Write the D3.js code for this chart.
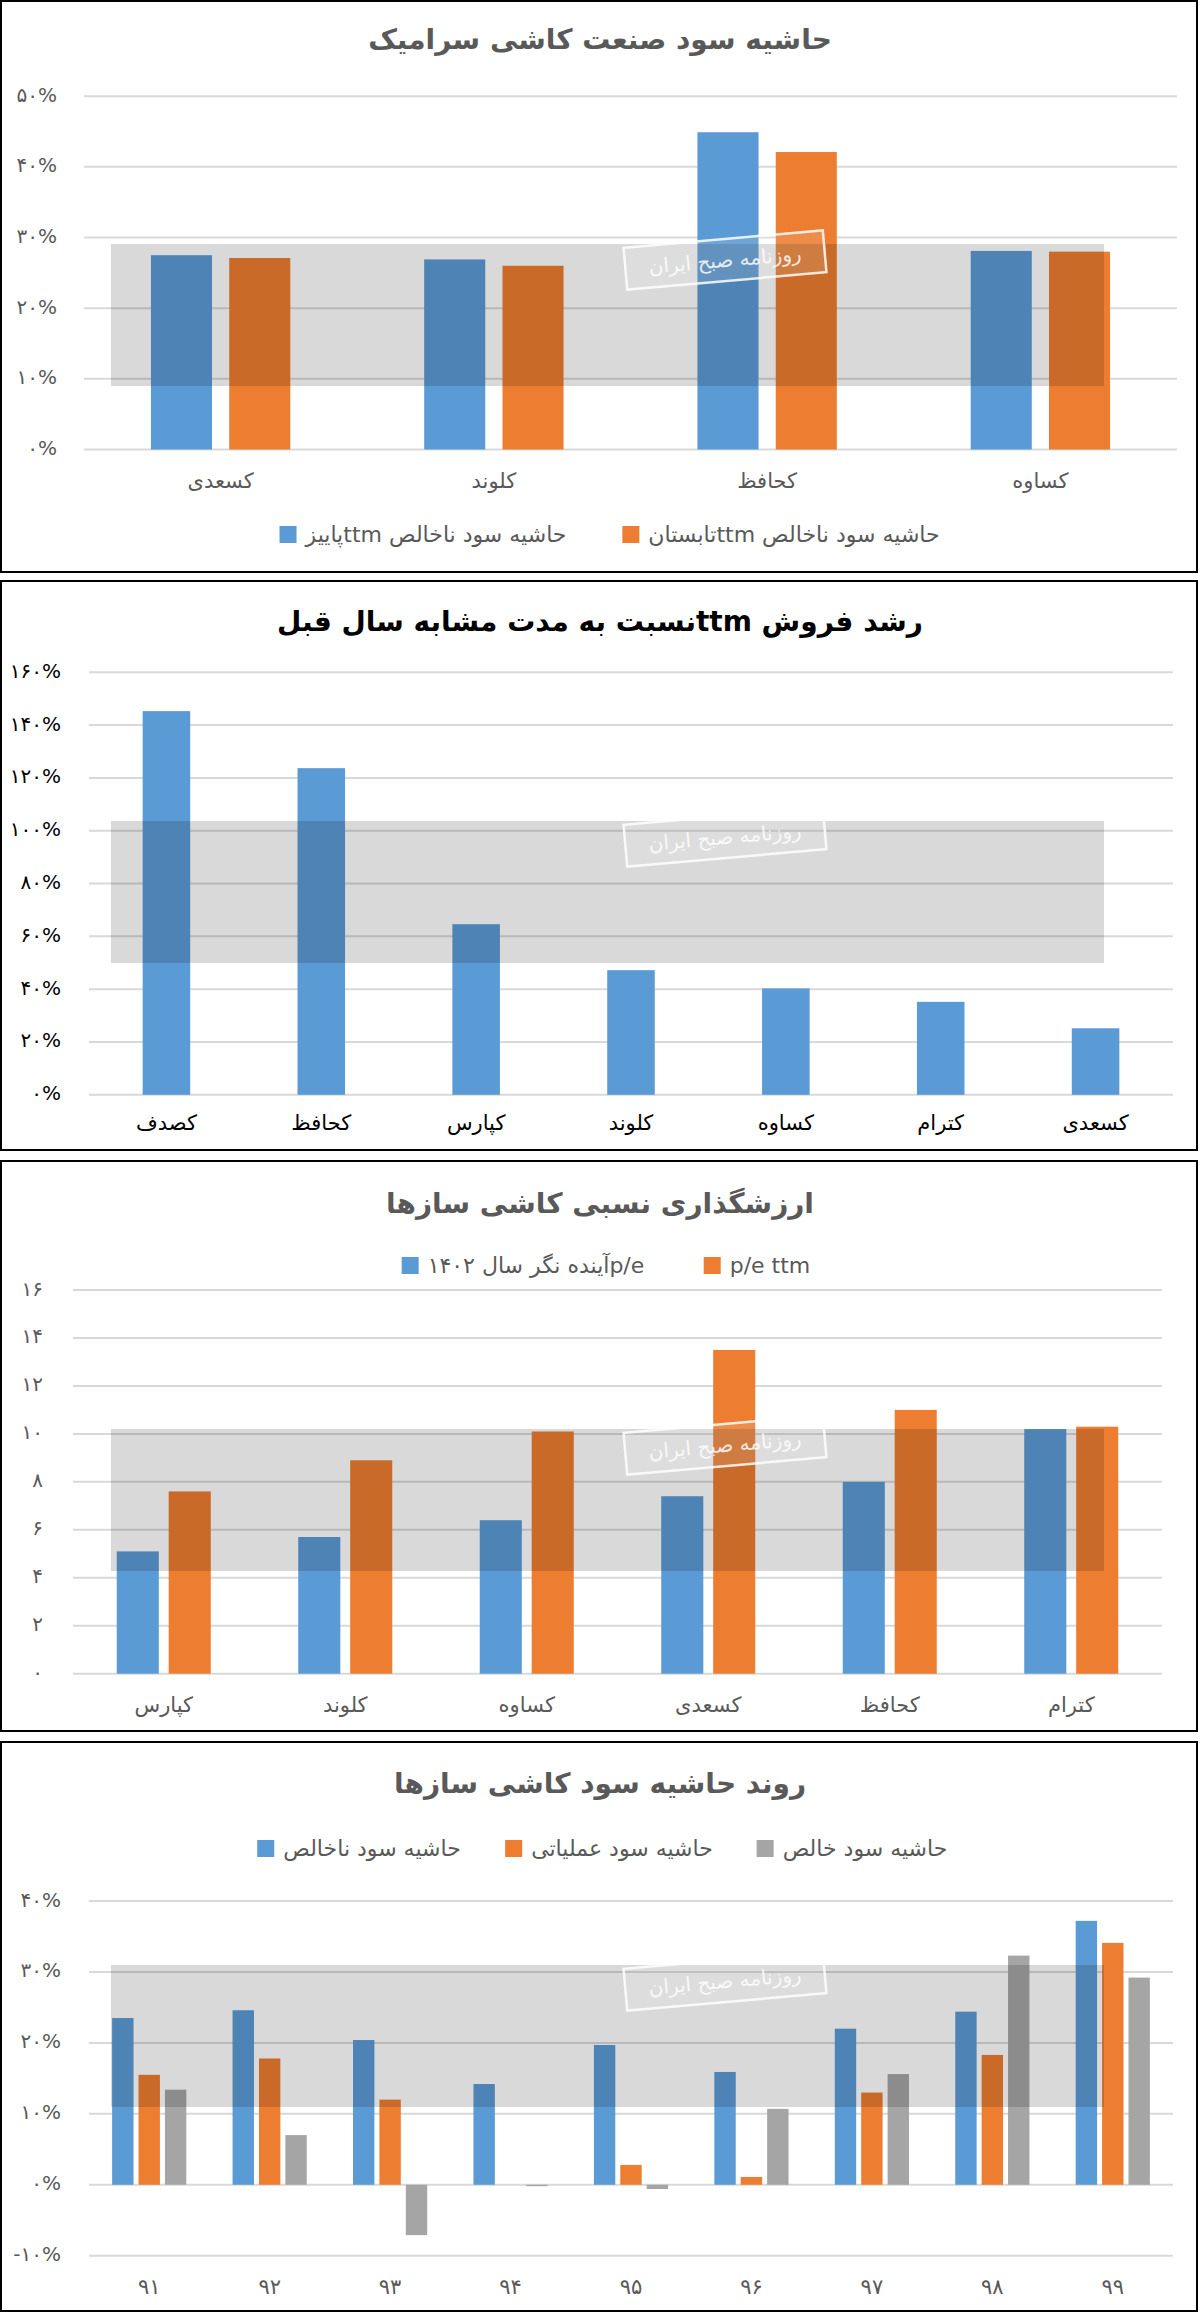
<!DOCTYPE html>
<html>
<head>
<meta charset="utf-8">
<script src="https://cdn.jsdelivr.net/npm/d3@7"></script>
<style>
  body { margin: 0; background: #fff; }
  svg text { font-family: "DejaVu Sans", sans-serif; }
</style>
</head>
<body>
<div id="chart"></div>
<script>
/* Data */

// panel 1 - gross margin, autumn vs summer ttm
var marginCats = ["کسعدی", "کلوند", "کحافظ", "کساوه"];
var marginAutumn = [27.5, 26.9, 44.9, 28.1];
var marginSummer = [27.1, 26.0, 42.1, 28.0];
var marginTicks = [0, 10, 20, 30, 40, 50];

// panel 2 - ttm sales growth
var growthCats = ["کصدف", "کحافظ", "کپارس", "کلوند", "کساوه", "کترام", "کسعدی"];
var growthValues = [145.3, 123.7, 64.6, 47.2, 40.3, 35.2, 25.2];
var growthTicks = [0, 20, 40, 60, 80, 100, 120, 140, 160];

// panel 3 - relative valuation p/e
var peCats = ["کپارس", "کلوند", "کساوه", "کسعدی", "کحافظ", "کترام"];
var peForward = [5.1, 5.7, 6.4, 7.4, 8.0, 10.2];
var peTtm = [7.6, 8.9, 10.1, 13.5, 11.0, 10.3];
var peTicks = [0, 2, 4, 6, 8, 10, 12, 14, 16];

// panel 4 - margin trend by year
var trendYears = ["91", "92", "93", "94", "95", "96", "97", "98", "99"];
var trendGross = [23.5, 24.6, 20.4, 14.2, 19.7, 15.9, 22.0, 24.4, 37.2];
var trendOperating = [15.5, 17.8, 12.0, 0, 2.8, 1.1, 13.0, 18.3, 34.1];
var trendNet = [13.4, 7.0, -7.1, -0.2, -0.6, 10.7, 15.6, 32.3, 29.2];
var trendTicks = [-10, 0, 10, 20, 30, 40];

var blue = "#5B9BD5", orange = "#ED7D31", gray = "#A5A5A5";
var textGray = "#595959";

var svg = d3.select("#chart").append("svg")
  .attr("width", 1200)
  .attr("height", 2314);

// latin digits -> persian digits
function fa(s) {
  return String(s).replace(/[0-9]/g, d => "۰۱۲۳۴۵۶۷۸۹"[+d]);
}

function drawPanel(p) {
  var g = svg.append("g");

  // frame
  g.append("rect")
    .attr("x", 1).attr("y", p.top)
    .attr("width", 1196).attr("height", p.bottom - p.top)
    .attr("fill", "#fff")
    .attr("stroke", "#000")
    .attr("stroke-width", 2);

  // title
  g.append("text")
    .attr("x", 600).attr("y", p.titleY)
    .attr("direction", "rtl")
    .attr("text-anchor", "middle")
    .attr("dominant-baseline", "central")
    .attr("font-size", 28)
    .attr("font-weight", "bold")
    .attr("fill", p.titleColor)
    .text(p.title);

  var x0 = d3.scaleBand()
    .domain(p.cats)
    .range([p.left, p.right])
    .paddingInner(p.pad)
    .paddingOuter(p.pad / 2);

  var keys = p.series.map((s, i) => i);
  var x1 = d3.scaleBand()
    .domain(keys)
    .range([0, x0.bandwidth()])
    .paddingInner(p.innerPad);

  var y = d3.scaleLinear()
    .domain([p.ticks[0], p.ticks[p.ticks.length - 1]])
    .range([p.yMin, p.yMax]);

  // gridlines
  g.append("g")
    .selectAll("line")
    .data(p.ticks)
    .join("line")
    .attr("x1", p.left).attr("x2", p.right)
    .attr("y1", d => y(d)).attr("y2", d => y(d))
    .attr("stroke", "#D9D9D9")
    .attr("stroke-width", 2);

  // y tick labels
  var yAxis = d3.axisLeft(y).tickValues(p.ticks).tickSize(0).tickFormat(p.fmt);
  var ya = g.append("g")
    .attr("transform", `translate(${p.labelX},0)`)
    .call(yAxis);
  ya.select(".domain").remove();
  ya.selectAll("text")
    .attr("x", 0)
    .attr("dy", "0.25em")
    .attr("font-size", 20)
    .attr("font-family", "DejaVu Sans")
    .attr("fill", p.labelColor);

  // bars
  var groups = g.append("g")
    .selectAll("g")
    .data(p.cats)
    .join("g")
    .attr("transform", d => `translate(${x0(d)},0)`);

  groups.selectAll("rect")
    .data((d, ci) => p.series.map((s, si) => ({ k: si, v: s.values[ci], c: s.color })))
    .join("rect")
    .attr("x", d => x1(d.k))
    .attr("width", x1.bandwidth())
    .attr("y", d => y(Math.max(0, d.v)))
    .attr("height", d => Math.abs(y(d.v) - y(0)))
    .attr("fill", d => d.c);

  // x category labels
  var xAxis = d3.axisBottom(x0).tickSize(0).tickFormat(p.catFmt || (d => d));
  var xa = g.append("g")
    .attr("transform", `translate(0,${p.catY})`)
    .call(xAxis);
  xa.select(".domain").remove();
  xa.selectAll("text")
    .attr("y", 0)
    .attr("dy", "0.35em")
    .attr("direction", "rtl")
    .attr("font-size", 21)
    .attr("font-family", "DejaVu Sans")
    .attr("fill", p.labelColor);

  // watermark band
  g.append("rect")
    .attr("x", 111).attr("y", p.bandY)
    .attr("width", 993).attr("height", 142)
    .attr("fill", "#000")
    .attr("opacity", 0.15);

  var stamp = g.append("g")
    .attr("transform", `translate(725,${p.bandY + 16}) rotate(-5)`)
    .attr("opacity", 0.85);
  stamp.append("rect")
    .attr("x", -100).attr("y", -21)
    .attr("width", 200).attr("height", 42)
    .attr("fill", "#fff").attr("fill-opacity", 0.15)
    .attr("stroke", "#fff")
    .attr("stroke-width", 2.5);
  stamp.append("text")
    .attr("direction", "rtl")
    .attr("text-anchor", "middle")
    .attr("dominant-baseline", "central")
    .attr("font-size", 20)
    .attr("fill", "#fff")
    .text("روزنامه صبح ایران");

  // legend
  if (p.legend) {
    p.legend.forEach(function (item) {
      var t = g.append("text")
        .attr("x", item.cx).attr("y", p.legendY)
        .attr("direction", "rtl")
        .attr("text-anchor", "middle")
        .attr("dominant-baseline", "central")
        .attr("font-size", 22)
        .attr("fill", textGray)
        .text(item.name);
      var w = t.node().getComputedTextLength();
      g.append("rect")
        .attr("x", item.cx - w / 2 - 26)
        .attr("y", p.legendY - 8)
        .attr("width", 17).attr("height", 17)
        .attr("fill", item.color);
    });
  }
}

var pct = d => fa(d) + "%";

drawPanel({
  top: 1, bottom: 572, titleY: 39, titleColor: textGray,
  title: "حاشیه سود صنعت کاشی سرامیک",
  cats: marginCats,
  series: [{ values: marginAutumn, color: blue }, { values: marginSummer, color: orange }],
  ticks: marginTicks, fmt: pct,
  left: 84, right: 1177, pad: 0.49, innerPad: 0.22,
  yMin: 449.5, yMax: 96.2, labelX: 57, labelColor: textGray,
  catY: 481, bandY: 244,
  legendY: 534,
  legend: [
    { name: "حاشیه سود ناخالص  ttmپاییز", color: blue, cx: 436 },
    { name: "حاشیه سود ناخالص  ttmتابستان", color: orange, cx: 794 }
  ]
});

drawPanel({
  top: 581, bottom: 1150, titleY: 621, titleColor: "#000",
  title: "رشد فروش  ttmنسبت به مدت مشابه سال قبل",
  cats: growthCats,
  series: [{ values: growthValues, color: blue }],
  ticks: growthTicks, fmt: pct,
  left: 89, right: 1173, pad: 0.693, innerPad: 0,
  yMin: 1094.8, yMax: 672.3, labelX: 61, labelColor: "#000",
  catY: 1122.5, bandY: 821
});

drawPanel({
  top: 1161, bottom: 1731, titleY: 1203.5, titleColor: textGray,
  title: "ارزشگذاری نسبی کاشی سازها",
  cats: peCats,
  series: [{ values: peForward, color: blue }, { values: peTtm, color: orange }],
  ticks: peTicks, fmt: d => fa(d),
  left: 73, right: 1162, pad: 0.482, innerPad: 0.19,
  yMin: 1673.7, yMax: 1290, labelX: 43, labelColor: textGray,
  catY: 1705, bandY: 1429,
  legendY: 1265,
  legend: [
    { name: "p/eآینده نگر سال ۱۴۰۲", color: blue, cx: 536 },
    { name: "p/e ttm", color: orange, cx: 770 }
  ]
});

drawPanel({
  top: 1742, bottom: 2311, titleY: 1783, titleColor: textGray,
  title: "روند حاشیه سود کاشی سازها",
  cats: trendYears, catFmt: d => fa(d),
  series: [
    { values: trendGross, color: blue },
    { values: trendOperating, color: orange },
    { values: trendNet, color: gray }
  ],
  ticks: trendTicks, fmt: d => (d < 0 ? "-" + fa(-d) : fa(d)) + "%",
  left: 89, right: 1173, pad: 0.384, innerPad: 0.19,
  yMin: 2255.7, yMax: 1901, labelX: 61, labelColor: textGray,
  catY: 2287, bandY: 1965,
  legendY: 1848,
  legend: [
    { name: "حاشیه سود ناخالص", color: blue, cx: 372 },
    { name: "حاشیه سود عملیاتی", color: orange, cx: 622 },
    { name: "حاشیه سود خالص", color: gray, cx: 865 }
  ]
});
</script>
</body>
</html>
